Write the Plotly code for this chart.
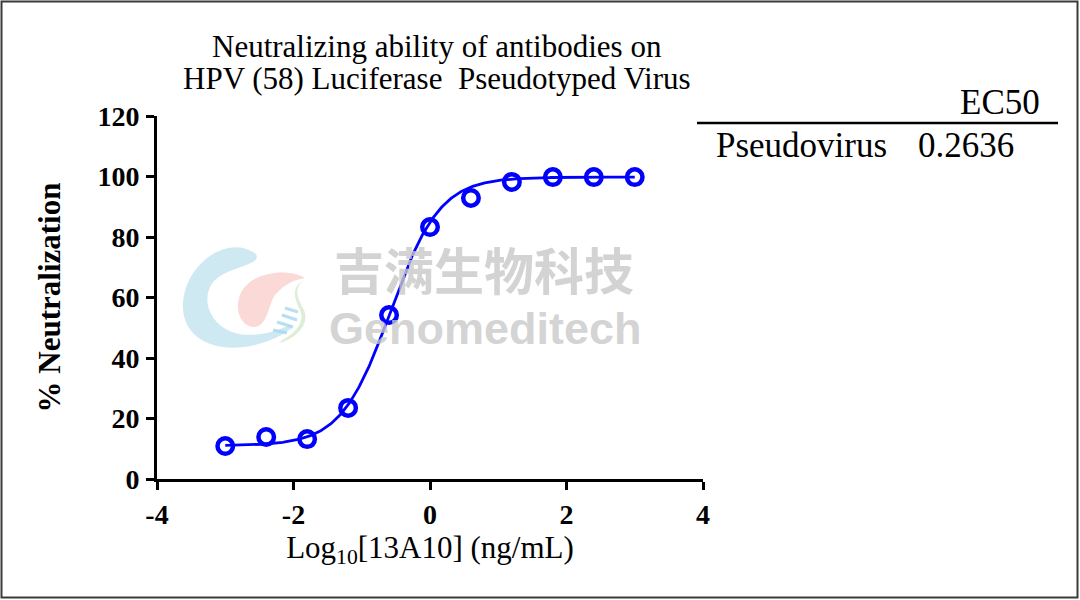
import numpy as np
import plotly.graph_objects as go

# ---- data ----
log_conc = [-3.0, -2.4, -1.8, -1.2, -0.6, 0.0, 0.6, 1.2, 1.8, 2.4, 3.0]
neutralization = [10.9, 13.9, 13.2, 23.5, 54.2, 83.3, 92.9, 98.2, 99.8, 99.8, 99.8]

# 4PL fit parameters
fit_bottom = 11.0
fit_top = 99.8
ec50 = 0.2636
fit_hill = 1.2

x_ticks = [-4, -2, 0, 2, 4]
y_ticks = [0, 20, 40, 60, 80, 100, 120]

title_lines = ["Neutralizing ability of antibodies on",
               "HPV (58) Luciferase  Pseudotyped Virus"]
table_header = "EC50"
table_row_label = "Pseudovirus"
table_row_value = "0.2636"

BLUE = "#0000FF"
SERIF = "Liberation Serif"

# ---- layout geometry (pixels) ----
W, H = 1080, 600
L, R, T, B = 157, 703, 116, 479


def px(x):
    return (x - L) / (R - L)


def py(y):
    return (B - y) / (B - T)


def svg(cmds):
    """Build an SVG path in paper coords from pixel-space commands."""
    out = []
    for c in cmds:
        if isinstance(c, str):
            out.append(c)
        else:
            out.append(f"{px(c[0]):.5f},{py(c[1]):.5f}")
    return " ".join(out)


log_ec50 = np.log10(ec50)
xs = np.linspace(min(log_conc), max(log_conc), 400)
ys = fit_bottom + (fit_top - fit_bottom) / (1 + 10 ** ((log_ec50 - xs) * fit_hill))

fig = go.Figure()
fig.add_trace(go.Scatter(x=xs, y=ys, mode="lines",
                         line=dict(color=BLUE, width=2.8),
                         hoverinfo="skip", showlegend=False))
fig.add_trace(go.Scatter(x=log_conc, y=neutralization, mode="markers",
                         marker=dict(symbol="circle-open", size=15.5, color=BLUE,
                                     line=dict(width=4.5, color=BLUE)),
                         showlegend=False))

shapes = []
# outer border
shapes.append(dict(type="rect", xref="paper", yref="paper",
                   x0=px(1.5), x1=px(1077.5), y0=py(597.5), y1=py(1.5),
                   line=dict(color="#3a3a3a", width=2), layer="below"))
# table rule
shapes.append(dict(type="line", xref="paper", yref="paper",
                   x0=px(697), x1=px(1058), y0=py(123), y1=py(123),
                   line=dict(color="black", width=2.4)))

# watermark logo (approximation)
blue_c = svg(["M", (253, 252), "C", (228, 236), (186, 262), (183, 303),
              "C", (181, 338), (214, 353), (250, 346),
              "C", (266, 343), (280, 337), (292, 328),
              "L", (289, 325),
              "C", (272, 334), (248, 338), (232, 332),
              "C", (207, 322), (201, 296), (214, 281),
              "C", (225, 270), (242, 268), (253, 262),
              "C", (258, 259), (258, 254), (253, 252), "Z"])
shapes.append(dict(type="path", xref="paper", yref="paper", path=blue_c,
                   fillcolor="rgba(175,218,235,0.6)", line=dict(width=0), layer="below"))
pink = svg(["M", (305, 278), "C", (290, 268), (250, 270), (240, 295),
            "C", (233, 315), (245, 328), (255, 327),
            "C", (268, 325), (268, 305), (275, 295),
            "C", (285, 283), (295, 280), (305, 278), "Z"])
shapes.append(dict(type="path", xref="paper", yref="paper", path=pink,
                   fillcolor="rgba(246,185,180,0.55)", line=dict(width=0), layer="below"))
green = svg(["M", (304, 280), "C", (292, 290), (299, 300), (304, 310),
             "C", (310, 325), (296, 338), (280, 343),
             "L", (282, 340),
             "C", (296, 333), (305, 322), (300, 310),
             "C", (295, 298), (290, 289), (304, 280), "Z"])
shapes.append(dict(type="path", xref="paper", yref="paper", path=green,
                   fillcolor="rgba(205,232,195,0.7)", line=dict(width=0), layer="below"))
for (a, b), (c, d) in [((285, 308), (298, 312)), ((282, 315), (297, 320)),
                       ((277, 322), (293, 327)), ((273, 330), (287, 333))]:
    shapes.append(dict(type="line", xref="paper", yref="paper",
                       x0=px(a), y0=py(b), x1=px(c), y1=py(d),
                       line=dict(color="rgba(165,215,235,0.8)", width=3), layer="below"))

annotations = [
    dict(text=title_lines[0], xref="paper", yref="paper", x=px(437), y=py(46),
         showarrow=False, font=dict(family=SERIF, size=31, color="black"),
         xanchor="center", yanchor="middle"),
    dict(text=title_lines[1], xref="paper", yref="paper", x=px(437), y=py(79),
         showarrow=False, font=dict(family=SERIF, size=31, color="black"),
         xanchor="center", yanchor="middle"),
    dict(text="<b>吉满生物科技</b>", xref="paper", yref="paper", x=px(484), y=py(268),
         showarrow=False, font=dict(family="Noto Sans CJK SC", size=50, color="rgba(200,200,200,0.8)"),
         xanchor="center", yanchor="middle"),
    dict(text="<b>Genomeditech</b>", xref="paper", yref="paper", x=px(485), y=py(328),
         showarrow=False, font=dict(family="Liberation Sans", size=45, color="rgba(200,200,200,0.8)"),
         xanchor="center", yanchor="middle"),
    dict(text=table_header, xref="paper", yref="paper", x=px(1042), y=py(102),
         showarrow=False, font=dict(family=SERIF, size=35, color="black"),
         xanchor="right", yanchor="middle"),
    dict(text=table_row_label, xref="paper", yref="paper", x=px(714), y=py(145),
         showarrow=False, font=dict(family=SERIF, size=35, color="black"),
         xanchor="left", yanchor="middle"),
    dict(text=table_row_value, xref="paper", yref="paper", x=px(916), y=py(145),
         showarrow=False, font=dict(family=SERIF, size=35, color="black"),
         xanchor="left", yanchor="middle"),
]

fig.update_layout(
    width=W, height=H,
    margin=dict(l=L, r=W - R, t=T, b=H - B, pad=0),
    paper_bgcolor="white", plot_bgcolor="white",
    shapes=shapes, annotations=annotations,
    xaxis=dict(range=[-4, 4], tickvals=x_ticks, ticktext=[str(v) for v in x_ticks],
               showgrid=False, zeroline=False, showline=True, linecolor="black", linewidth=3,
               ticks="outside", ticklen=8, tickwidth=3, tickcolor="black",
               ticklabelstandoff=0,
               tickfont=dict(family=SERIF, size=28, color="black", weight="bold"),
               title=dict(text="Log<sub>10</sub>[13A10] (ng/mL)", standoff=8,
                          font=dict(family=SERIF, size=31, color="black"))),
    yaxis=dict(range=[0, 120], tickvals=y_ticks, ticktext=[str(v) for v in y_ticks],
               showgrid=False, zeroline=False, showline=True, linecolor="black", linewidth=3,
               ticks="outside", ticklen=8, tickwidth=3, tickcolor="black",
               ticklabelstandoff=1,
               tickfont=dict(family=SERIF, size=28, color="black", weight="bold"),
               title=dict(text="<b>% Neutralization</b>", standoff=28,
                          font=dict(family=SERIF, size=31, color="black"))),
)

fig.write_html("out.html", config={"displayModeBar": False},
               post_script="document.body.style.margin='0';")
